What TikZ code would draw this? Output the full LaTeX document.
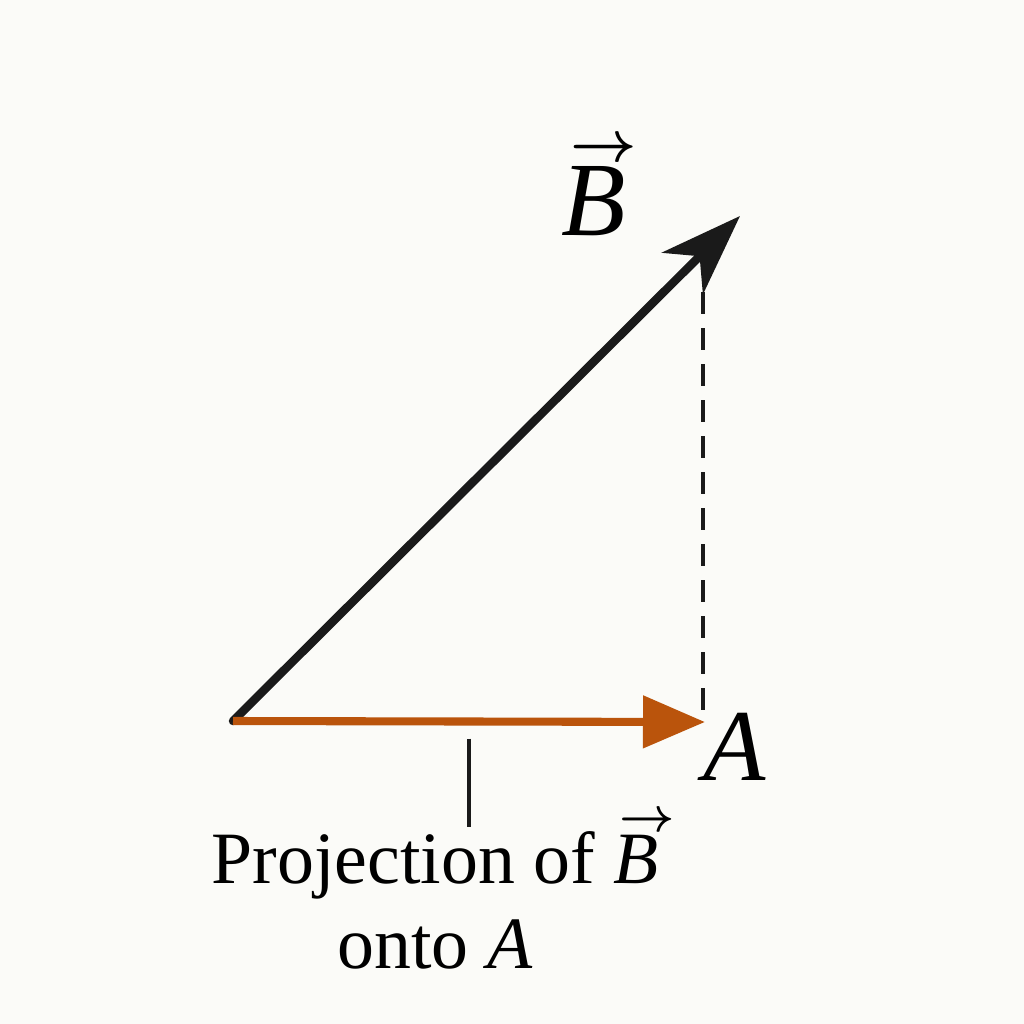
\documentclass[tikz,border=0pt]{standalone}
\usepackage{fontspec}
\setmainfont{Liberation Serif}
\definecolor{pjPaper}{HTML}{FBFBF8}
\definecolor{pjInk}{HTML}{1A1A1A}
\definecolor{pjRust}{HTML}{BA540C}
\usetikzlibrary{calc,positioning,arrows.meta}
\newcommand{\pjvec}[1]{\leavevmode
  \rlap{\kern0.08em\raisebox{0.7em}{\scalebox{0.66}{\boldmath$\rightarrow$}}}\textit{#1}}

\begin{document}
\begin{tikzpicture}
  \fill[pjPaper] (0,0) rectangle (10.24,-10.24);
  \useasboundingbox (0,0) rectangle (10.24,-10.24);
  \coordinate (origin) at (2.33,-7.21);
  \coordinate (btip) at (7.40,-2.16);
  \coordinate (atip) at (7.05,-7.22);
  \coordinate (dtop) at (7.03,-2.92);
  \coordinate (tick) at ($(origin)!0.5!(atip)+(0,-0.17)$);
  % vectors
  \draw[pjInk, line width=2.4pt, line cap=round,
        -{Stealth[length=8.1mm, width=5.8mm, inset=2.4mm]}] (origin) -- (btip);
  \draw[pjRust, line width=2.3pt,
        -{Triangle[length=6.2mm, width=5.1mm]}] (origin) -- (atip);
  \draw[pjInk, line width=1.1pt, dash pattern=on 0.22cm off 0.14cm] (dtop) -- (7.03,-7.22);
  % labels
  \node[font=\fontsize{30}{32}\selectfont, anchor=base] (blab) at (5.94,-2.35) {\pjvec{B}};
  \node[font=\fontsize{29}{31}\selectfont, anchor=base] (alab) at (7.35,-7.80) {\textit{A}};
  \node[align=center, anchor=base, inner sep=0pt, font=\fontsize{21}{24}\selectfont]
    (proj) at (4.35,-9.68) {Projection of \pjvec{B}\\onto \textit{A}};
  \draw[pjInk, line width=1pt] (tick) -- ++(0,-0.88) coordinate (tickend);
\end{tikzpicture}
\end{document}
